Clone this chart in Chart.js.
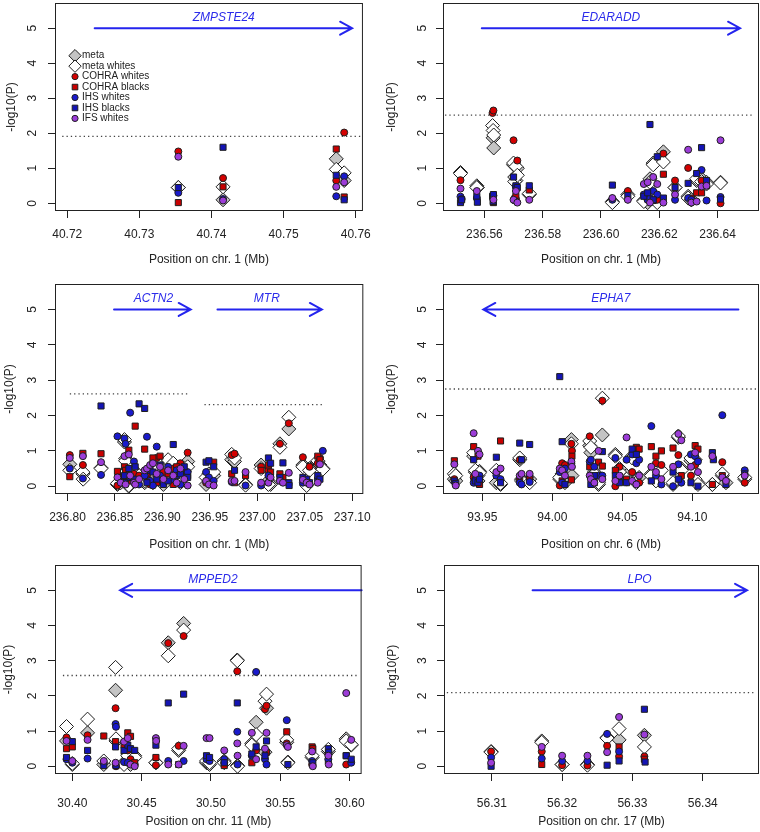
<!DOCTYPE html>
<html>
<head>
<meta charset="utf-8">
<title>Regional association plots</title>
<script src="https://cdn.jsdelivr.net/npm/chart.js@4.4.1/dist/chart.umd.min.js"></script>
<style>
  html, body { margin: 0; padding: 0; background: #fff; }
  #wrap { position: relative; width: 760px; height: 832px; overflow: hidden; }
  canvas { position: absolute; }
</style>
</head>
<body>
<div id="wrap">
  <canvas id="c1" width="380" height="280" style="left:0;top:0"></canvas>
  <canvas id="c2" width="380" height="280" style="left:380px;top:0"></canvas>
  <canvas id="c3" width="380" height="275" style="left:0;top:280px"></canvas>
  <canvas id="c4" width="380" height="275" style="left:380px;top:280px"></canvas>
  <canvas id="c5" width="380" height="277" style="left:0;top:555px"></canvas>
  <canvas id="c6" width="380" height="277" style="left:380px;top:555px"></canvas>
</div>
<script>
const n = null;
const seriesNames = ['meta', 'meta whites', 'COHRA whites', 'COHRA blacks', 'IHS whites', 'IHS blacks', 'IFS whites'];
const yTicks = [0, 1, 2, 3, 4, 5];

// panel 1: ZMPSTE24, chr. 1
const p1Ticks = [40.72, 40.73, 40.74, 40.75, 40.76];
const p1Pos    = [40.7354, 40.7416, 40.7573, 40.7584];
const p1Meta   = [0.45, 0.10, 1.27, 0.65];
const p1MetaW  = [0.45, 0.47, 0.97, 0.87];
const p1CohraW = [1.48, 0.72, 0.65, 2.02];
const p1CohraB = [0.02, 0.47, 1.55, 0.18];
const p1IhsW   = [0.30, 0.12, 0.20, 0.77];
const p1IhsB   = [0.45, 1.60, 0.80, 0.10];
const p1IfsW   = [1.33, 0.08, 0.47, 0.60];
const p1Genes  = [['ZMPSTE24', 40.7238, 40.7595, 40.7417]];
const p1Thresh = [[40.7193, 40.7607, 1.91]];

// panel 2: EDARADD, chr. 1
const p2Ticks = [236.56, 236.58, 236.60, 236.62, 236.64];
const p2Pos    = [236.5518, 236.5522, 236.5574, 236.5576, 236.5628, 236.5630, 236.5631, 236.5632, 236.5700, 236.5704,
                  236.5708, 236.5713, 236.5754, 236.6039, 236.6092, 236.6147, 236.6160, 236.6168, 236.6179, 236.6193,
                  236.6214, 236.6254, 236.6299, 236.6310, 236.6328, 236.6345, 236.6362, 236.6410];
const p2Meta   = [.88, n, .50, .45, n, 1.87, n, 1.58, 1.10, .75,
                  .65, 1.00, .25, .05, .25, .08, .02, .70, 1.15, .05,
                  1.47, .45, .20, .10, .65, .70, .60, .60];
const p2MetaW  = [.85, n, .45, n, 2.22, 2.08, n, 1.95, 1.15, .62,
                  1.05, .80, .28, .02, .20, .05, n, .60, 1.10, .02,
                  1.18, .45, .15, .10, .70, .62, .55, .58];
const p2CohraW = [.66, n, n, n, 2.58, n, 2.65, n, 1.80, .15,
                  .12, 1.22, n, n, .35, n, .10, n, n, .10,
                  1.42, .65, 1.01, n, n, .65, n, .00];
const p2CohraB = [n, n, n, n, n, n, .02, n, n, n,
                  .20, n, .38, n, n, n, n, n, .08, n,
                  .83, n, n, .15, .30, .30, .50, n];
const p2IhsW   = [.19, .12, .15, n, n, n, .22, n, n, .08,
                  .48, n, n, .10, n, .25, .10, .15, .35, .25,
                  n, .10, .15, .10, n, .95, .08, .18];
const p2IhsB   = [.02, .10, .20, .03, .20, .05, .25, n, .75, n,
                  .50, .45, .50, .52, .22, .20, .30, 2.25, .10, 1.33,
                  .15, .45, .57, n, .85, 1.59, .65, .12];
const p2IfsW   = [.42, n, .35, n, n, n, .10, n, .10, n,
                  .35, .02, .10, .15, .10, .55, .60, .02, .75, .55,
                  .02, .25, 1.53, .02, .05, .48, .50, 1.80];
const p2Genes  = [['EDARADD', 236.5591, 236.6477, 236.6034]];
const p2Thresh = [[236.5465, 236.6520, 2.52]];

// panel 3: ACTN2 / MTR, chr. 1
const p3Ticks = [236.80, 236.85, 236.90, 236.95, 237.00, 237.05, 237.10];
const p3Pos    = [236.8024, 236.8162, 236.8165, 236.8353, 236.8526, 236.8560, 236.8600, 236.8612, 236.8646, 236.8660,
                  236.8700, 236.8713, 236.8754, 236.8813, 236.8837, 236.8870, 236.8900, 236.8940, 236.8975, 236.9010,
                  236.9060, 236.9114, 236.9150, 236.9190, 236.9230, 236.9266, 236.9460, 236.9490, 236.9540, 236.9730,
                  236.9760, 236.9876, 237.0040, 237.0117, 237.0140, 237.0238, 237.0270, 237.0332, 237.0335, 237.0480,
                  237.0520, 237.0550, 237.0637, 237.0660, 237.0690];
const p3Meta   = [.62, .35, n, .52, .05, .10, 1.25, .78, .00, n,
                  .45, n, .25, .10, n, .35, .15, .50, .20, .05,
                  .70, .62, .30, .15, .42, .70, .05, .35, .30, .75,
                  .70, .05, .60, .15, .05, 1.20, n, 1.62, n, .60,
                  .05, .50, .70, .60, .50];
const p3MetaW  = [.45, .40, .20, .50, .08, n, 1.32, .72, .02, n,
                  .40, n, .30, .15, n, .30, .10, .45, .25, n,
                  .75, .65, .25, .10, .50, .55, .25, .15, .40, .90,
                  .80, .03, .50, .05, n, 1.10, n, 1.95, n, .55,
                  .02, .45, .72, n, .48];
const p3CohraW = [.88, .60, n, n, .02, n, .10, n, .20, n,
                  .35, .15, .30, n, .30, .05, n, .80, n, .40,
                  n, .50, n, .65, n, .95, .10, n, n, .88,
                  .92, n, .55, .45, n, 1.20, n, 1.78, n, .82,
                  n, .55, .65, .80, n];
const p3CohraB = [.27, .93, n, .92, .42, .25, .55, .45, 1.02, .15,
                  n, 1.70, n, 1.05, .20, n, .80, .10, .85, n,
                  .35, .05, .55, n, .40, .30, n, n, .68, .35,
                  .10, .30, .45, .60, .40, .35, .25, n, n, n,
                  n, n, .85, .75, n];
const p3IhsW   = [.50, .22, n, .32, 1.41, n, 1.35, 1.20, n, 2.08,
                  .70, n, .05, .30, 1.40, .15, .02, 1.12, .30, .10,
                  .55, .20, .45, .05, .30, .40, .40, .25, .15, .12,
                  n, .02, .02, .30, n, n, n, n, n, .10,
                  .15, n, .20, n, 1.00];
const p3IhsB   = [n, n, n, 2.27, n, .15, .30, .10, .50, .25,
                  .20, .55, 2.33, 2.20, .10, .45, .40, .20, .60, .05,
                  .15, 1.18, .30, .35, .55, .25, .68, .72, .55, n,
                  .45, n, n, .80, .65, .25, .66, .10, .02, .25,
                  .20, .10, .30, .20, n];
const p3IfsW   = [.80, .85, n, .68, .25, .10, .85, .05, .90, .30,
                  .10, .05, .20, .45, .50, .60, .65, .35, .55, .20,
                  .45, .30, .10, .50, .20, .02, .15, .05, .02, .15,
                  .15, .40, .10, .10, .25, .15, .10, .38, n, .18,
                  .10, .05, .10, .62, n];
const p3Genes  = [['ACTN2', 236.849, 236.9298, 236.8906], ['MTR', 236.958, 237.068, 237.010]];
const p3Thresh = [[236.8024, 236.9287, 2.61], [236.9443, 237.0705, 2.31]];

// panel 4: EPHA7, chr. 6
const p4Ticks = [93.95, 94.00, 94.05, 94.10];
const p4Pos    = [93.9300, 93.9310, 93.9438, 93.9450, 93.9469, 93.9480, 93.9600, 93.9630, 93.9767, 93.9780,
                  93.9838, 94.0053, 94.0070, 94.0090, 94.0136, 94.0140, 94.0267, 94.0275, 94.0300, 94.0330,
                  94.0357, 94.0450, 94.0480, 94.0530, 94.0570, 94.0600, 94.0620, 94.0707, 94.0740, 94.0779,
                  94.0862, 94.0900, 94.0921, 94.0990, 94.1020, 94.1040, 94.1143, 94.1150, 94.1214, 94.1240,
                  94.1374];
const p4Meta   = [.20, .15, .85, .40, .15, .42, .10, .05, .75, .20,
                  .20, .20, .35, .10, 1.32, .30, 1.15, .95, .40, .05,
                  1.45, .90, .50, .30, .85, .20, .25, .35, .25, n,
                  .05, 1.38, .50, .72, .75, .10, .05, n, .30, .10,
                  .20];
const p4MetaW  = [.35, .30, .95, .45, .30, .38, .45, .08, .80, .15,
                  .10, .25, n, n, 1.20, n, 1.28, 1.10, .35, .10,
                  2.49, .85, .40, .20, .80, .10, n, .30, .15, .45,
                  .10, 1.42, .45, .80, .20, .05, .05, n, .35, n,
                  .25];
const p4CohraW = [.20, n, .25, n, .10, n, n, n, .75, n,
                  .25, .02, .65, .60, 1.20, 1.00, 1.41, .30, n, n,
                  2.42, .00, .55, n, .40, 1.00, .10, n, .65, .60,
                  n, .88, n, .30, .60, n, n, n, .68, n,
                  .10];
const p4CohraB = [.72, n, 1.12, .10, .85, .05, n, 1.28, .20, n,
                  .20, n, .15, n, .18, .85, .55, n, .10, .68,
                  .57, .45, n, .20, n, 1.10, 1.05, 1.12, .85, 1.00,
                  1.08, n, .30, n, 1.15, 1.05, .05, n, .30, n,
                  n];
const p4IhsW   = [n, n, .10, .20, n, .30, .30, .20, .10, .05,
                  .12, .40, .10, .50, .65, n, .70, .75, .55, .30,
                  .30, .80, .20, .75, .90, .65, .75, 1.70, .30, .05,
                  .00, .62, .10, .90, .85, .70, n, n, 2.01, n,
                  .45];
const p4IhsB   = [.15, .08, .75, .15, .10, .20, .82, .10, 1.22, .75,
                  1.18, 3.10, 1.26, .05, n, n, n, .05, .30, n,
                  .98, .30, .10, .10, 1.05, .90, n, .15, n, n,
                  .40, .20, n, .10, n, .00, .95, .75, n, .05,
                  .35];
const p4IfsW   = [.62, .02, 1.50, .35, 1.00, .90, .40, .50, .30, .35,
                  .35, .50, .45, .30, .70, .55, .30, .20, .10, 1.00,
                  .20, .15, .30, 1.38, .15, .05, .30, .55, .40, .20,
                  .55, 1.48, 1.30, .55, .95, .40, .85, n, .25, .15,
                  .30];
const p4Genes  = [['EPHA7', 94.1329, 93.9507, 94.0418]];
const p4Thresh = [[93.9234, 94.1460, 2.75]];

// panel 5: MPPED2, chr. 11
const p5Ticks = [30.40, 30.45, 30.50, 30.55, 30.60];
const p5Pos    = [30.3958, 30.4000, 30.4110, 30.4227, 30.4312, 30.4315, 30.4373, 30.4400, 30.4420, 30.4450,
                  30.4603, 30.4605, 30.4692, 30.4767, 30.4803, 30.4968, 30.4990, 30.5096, 30.5190, 30.5192,
                  30.5295, 30.5326, 30.5390, 30.5401, 30.5547, 30.5555, 30.5730, 30.5735, 30.5847, 30.5850,
                  30.5976, 30.6012];
const p5Meta   = [.72, .05, .95, .05, 2.16, .72, .10, .35, .05, .30,
                  .10, n, 3.51, .45, 4.06, .10, .05, .15, 3.02, .02,
                  .65, 1.25, .40, 1.65, .68, .12, .25, n, .42, n,
                  .78, .60];
const p5MetaW  = [1.13, .08, 1.34, .15, 2.81, .78, .05, .30, n, .25,
                  .10, n, 3.14, .50, 3.87, .15, .10, .10, 3.00, .00,
                  .60, .90, 1.85, 2.05, .75, .10, .30, n, .48, n,
                  .72, .62];
const p5CohraW = [.82, .12, .88, n, 1.65, .00, n, .45, .20, .05,
                  .03, n, 3.50, .58, 3.70, n, n, .10, 2.70, n,
                  n, .45, 1.62, 1.72, .65, n, .05, n, .35, n,
                  .05, n];
const p5CohraB = [.50, .55, n, .86, .70, n, .60, .95, .85, .10,
                  .25, n, n, .05, n, n, n, .02, n, n,
                  .10, n, n, .40, .98, n, .55, .50, .15, n,
                  .30, n];
const p5IhsW   = [.20, .10, .22, .10, 1.20, 1.12, .12, .10, n, n,
                  n, n, .15, n, .15, .20, .15, .20, .98, .05,
                  .30, 2.68, .20, .05, 1.31, n, .15, n, .20, n,
                  n, .10];
const p5IhsB   = [.25, .70, .45, .02, .55, .02, .45, .60, .50, .45,
                  .60, n, 1.80, n, 2.05, .30, .25, .10, 1.80, n,
                  .35, .55, .30, .72, n, .05, n, .10, .50, .40,
                  .30, .20];
const p5IfsW   = [.72, .15, .75, .15, .10, n, .70, .80, .05, .00,
                  .80, .72, .05, .05, .58, .80, .80, .45, .65, .30,
                  .95, .20, .50, .95, .60, .55, .42, .00, .30, .05,
                  2.08, .75];
const p5Genes  = [['MPPED2', 30.6087, 30.4345, 30.5014]];
const p5Thresh = [[30.3932, 30.6060, 2.58]];

// panel 6: LPO, chr. 17
const p6Ticks = [56.31, 56.32, 56.33, 56.34];
const p6Pos    = [56.3099, 56.3171, 56.3200, 56.3236, 56.3264, 56.3281, 56.3317, 56.3318];
const p6Meta   = [.42, .72, .05, .05, .82, .75, .88, n];
const p6MetaW  = [.40, .68, .05, .03, .80, 1.07, .55, n];
const p6CohraW = [.42, .42, .03, .02, .58, .28, .28, n];
const p6CohraB = [n, .05, n, n, n, .55, .20, n];
const p6IhsW   = [.25, .22, .15, .15, .92, .42, n, n];
const p6IhsB   = [.00, n, n, n, .03, .15, 1.62, .12];
const p6IfsW   = [.10, .55, .30, .30, .40, 1.40, .90, n];
const p6Genes  = [['LPO', 56.3158, 56.3463, 56.3310]];
const p6Thresh = [[56.3036, 56.3472, 2.09]];

const seriesStyle = [
  { pointStyle: 'rectRot', radius: 7, fill: '#c4c4c4' },
  { pointStyle: 'rectRot', radius: 7, fill: '#ffffff' },
  { pointStyle: 'circle', radius: 3.5, fill: '#d40000' },
  { pointStyle: 'rect', radius: 4.3, fill: '#c80000' },
  { pointStyle: 'circle', radius: 3.5, fill: '#1a1acc' },
  { pointStyle: 'rect', radius: 4.3, fill: '#1414b4' },
  { pointStyle: 'circle', radius: 3.5, fill: '#9c3cd8' }
];

const panels = [
  { id: 'c1', chr: '1', pos: p1Pos, series: [p1Meta, p1MetaW, p1CohraW, p1CohraB, p1IhsW, p1IhsB, p1IfsW],
    ticks: p1Ticks, xMin: 40.7183, xMax: 40.7610, genes: p1Genes, thresh: p1Thresh, legend: true,
    box: [55, 369, 3, 211], yLab: 33, yTitle: 12, xPad: 9, xTitle: 49 },
  { id: 'c2', chr: '1', pos: p2Pos, series: [p2Meta, p2MetaW, p2CohraW, p2CohraB, p2IhsW, p2IhsB, p2IfsW],
    ticks: p2Ticks, xMin: 236.5458, xMax: 236.6542, genes: p2Genes, thresh: p2Thresh,
    box: [63, 379, 3, 211], yLab: 43, yTitle: 12, xPad: 9, xTitle: 49 },
  { id: 'c3', chr: '1', pos: p3Pos, series: [p3Meta, p3MetaW, p3CohraW, p3CohraB, p3IhsW, p3IhsB, p3IfsW],
    ticks: p3Ticks, xMin: 236.7868, xMax: 237.1117, genes: p3Genes, thresh: p3Thresh,
    box: [55, 368, 4, 214], yLab: 33, yTitle: 10, xPad: 9, xTitle: 51 },
  { id: 'c4', chr: '6', pos: p4Pos, series: [p4Meta, p4MetaW, p4CohraW, p4CohraB, p4IhsW, p4IhsB, p4IfsW],
    ticks: p4Ticks, xMin: 93.9219, xMax: 94.1476, genes: p4Genes, thresh: p4Thresh,
    box: [63, 379, 4, 214], yLab: 43, yTitle: 12, xPad: 9, xTitle: 51 },
  { id: 'c5', chr: '11', pos: p5Pos, series: [p5Meta, p5MetaW, p5CohraW, p5CohraB, p5IhsW, p5IhsB, p5IfsW],
    ticks: p5Ticks, xMin: 30.3875, xMax: 30.6087, genes: p5Genes, thresh: p5Thresh,
    box: [55, 369, 10, 219], yLab: 33, yTitle: 9, xPad: 15, xTitle: 48 },
  { id: 'c6', chr: '17', pos: p6Pos, series: [p6Meta, p6MetaW, p6CohraW, p6CohraB, p6IhsW, p6IhsB, p6IfsW],
    ticks: p6Ticks, xMin: 56.3032, xMax: 56.3480, genes: p6Genes, thresh: p6Thresh,
    box: [64, 379, 10, 219], yLab: 43, yTitle: 13, xPad: 15, xTitle: 48 }
];

const FONT = "'Liberation Sans', Arial, Helvetica, sans-serif";
const INK = '#222';
Chart.defaults.font.family = FONT;
Chart.defaults.color = INK;

function legendMark(ctx, st, x, y) {
  ctx.beginPath();
  if (st.pointStyle === 'rectRot') {
    const r = 6.2;
    ctx.moveTo(x, y - r); ctx.lineTo(x + r, y); ctx.lineTo(x, y + r); ctx.lineTo(x - r, y); ctx.closePath();
  } else if (st.pointStyle === 'rect') {
    ctx.rect(x - 2.8, y - 2.8, 5.6, 5.6);
  } else {
    ctx.arc(x, y, 3.1, 0, Math.PI * 2);
  }
  ctx.fillStyle = st.fill;
  ctx.fill();
  ctx.stroke();
}

const decor = {
  id: 'decor',
  beforeDatasetsDraw(chart) {
    const p = chart.options.plugins.decor.panel;
    const xs = chart.scales.x, ys = chart.scales.y, ctx = chart.ctx;
    ctx.save();
    p.genes.forEach(g => {
      const x0 = xs.getPixelForValue(g[1]);
      const x1 = xs.getPixelForValue(g[2]);
      const y = ys.getPixelForValue(5);
      const dir = x1 > x0 ? -1 : 1;
      ctx.strokeStyle = '#2424ee';
      ctx.lineWidth = 2;
      ctx.lineCap = 'round';
      ctx.beginPath();
      ctx.moveTo(x0, y);
      ctx.lineTo(x1, y);
      ctx.moveTo(x1 + dir * 12, y - 6.5);
      ctx.lineTo(x1, y);
      ctx.lineTo(x1 + dir * 12, y + 6.5);
      ctx.stroke();
      ctx.fillStyle = '#2b2bea';
      ctx.font = 'italic 12px ' + FONT;
      ctx.textAlign = 'center';
      ctx.textBaseline = 'middle';
      ctx.fillText(g[0], xs.getPixelForValue(g[3]), y - 11);
    });
    ctx.restore();
  },
  afterDraw(chart) {
    const p = chart.options.plugins.decor.panel;
    const a = chart.chartArea, ys = chart.scales.y, ctx = chart.ctx;
    ctx.save();
    ctx.strokeStyle = INK;
    ctx.lineWidth = 1;
    ctx.strokeRect(a.left + 0.5, a.top + 0.5, a.right - a.left - 1, a.bottom - a.top - 1);

    ctx.fillStyle = INK;
    ctx.textAlign = 'center';
    ctx.textBaseline = 'middle';
    ctx.font = '12px ' + FONT;
    yTicks.forEach(v => {
      ctx.save();
      ctx.translate(p.yLab, ys.getPixelForValue(v));
      ctx.rotate(-Math.PI / 2);
      ctx.fillText(String(v), 0, 0);
      ctx.restore();
    });
    ctx.save();
    ctx.translate(p.yTitle, (a.top + a.bottom) / 2);
    ctx.rotate(-Math.PI / 2);
    ctx.fillText('-log10(P)', 0, 0);
    ctx.restore();
    ctx.fillText('Position on chr. ' + p.chr + ' (Mb)', (a.left + a.right) / 2, a.bottom + p.xTitle);

    if (p.legend) {
      ctx.lineWidth = 1;
      ctx.strokeStyle = '#1e1e1e';
      ctx.font = '10px ' + FONT;
      ctx.textAlign = 'left';
      seriesNames.forEach((name, i) => {
        const y = 55.7 + i * 10.45;
        legendMark(ctx, seriesStyle[i], 75, y);
        ctx.fillStyle = INK;
        ctx.fillText(name, 82, y);
      });
    }
    ctx.restore();
  }
};

function buildChart(p) {
  const canvas = document.getElementById(p.id);
  const W = canvas.width, H = canvas.height;
  const [bl, br, bt, bb] = p.box;
  const datasets = p.series.map((vals, i) => {
    const st = seriesStyle[i];
    return {
      label: seriesNames[i],
      data: p.pos.map((x, k) => vals[k] == null ? null : { x: x, y: vals[k] }).filter(Boolean),
      pointStyle: st.pointStyle,
      pointRadius: st.radius,
      pointHoverRadius: st.radius,
      backgroundColor: st.fill,
      borderColor: '#1e1e1e',
      borderWidth: 1,
      order: 20 - i
    };
  });
  p.thresh.forEach(t => {
    datasets.push({
      type: 'line',
      data: [{ x: t[0], y: t[2] }, { x: t[1], y: t[2] }],
      borderColor: '#444',
      borderWidth: 1.3,
      borderDash: [1.3, 3],
      pointRadius: 0,
      fill: false,
      order: 30
    });
  });

  new Chart(canvas, {
    type: 'scatter',
    data: { datasets: datasets },
    options: {
      responsive: false,
      animation: false,
      events: [],
      layout: { autoPadding: false, padding: { left: 0, right: W - br, top: bt, bottom: 0 } },
      plugins: { legend: { display: false }, tooltip: { enabled: false }, decor: { panel: p } },
      scales: {
        x: {
          type: 'linear', min: p.xMin, max: p.xMax,
          afterBuildTicks: s => { s.ticks = p.ticks.map(v => ({ value: v })); },
          afterFit: s => { s.height = H - bb; },
          grid: { drawOnChartArea: false, drawTicks: true, tickLength: 7, color: INK },
          border: { display: false },
          ticks: { autoSkip: false, maxRotation: 0, padding: p.xPad, color: INK, font: { size: 12 },
                   callback: v => Number(v).toFixed(2) }
        },
        y: {
          type: 'linear', min: -0.22, max: 5.72,
          afterBuildTicks: s => { s.ticks = yTicks.map(v => ({ value: v })); },
          afterFit: s => { s.width = bl; },
          grid: { drawOnChartArea: false, drawTicks: true, tickLength: 7, color: INK },
          border: { display: false },
          ticks: { display: false }
        }
      }
    },
    plugins: [decor]
  });
}

panels.forEach(buildChart);
</script>
</body>
</html>
